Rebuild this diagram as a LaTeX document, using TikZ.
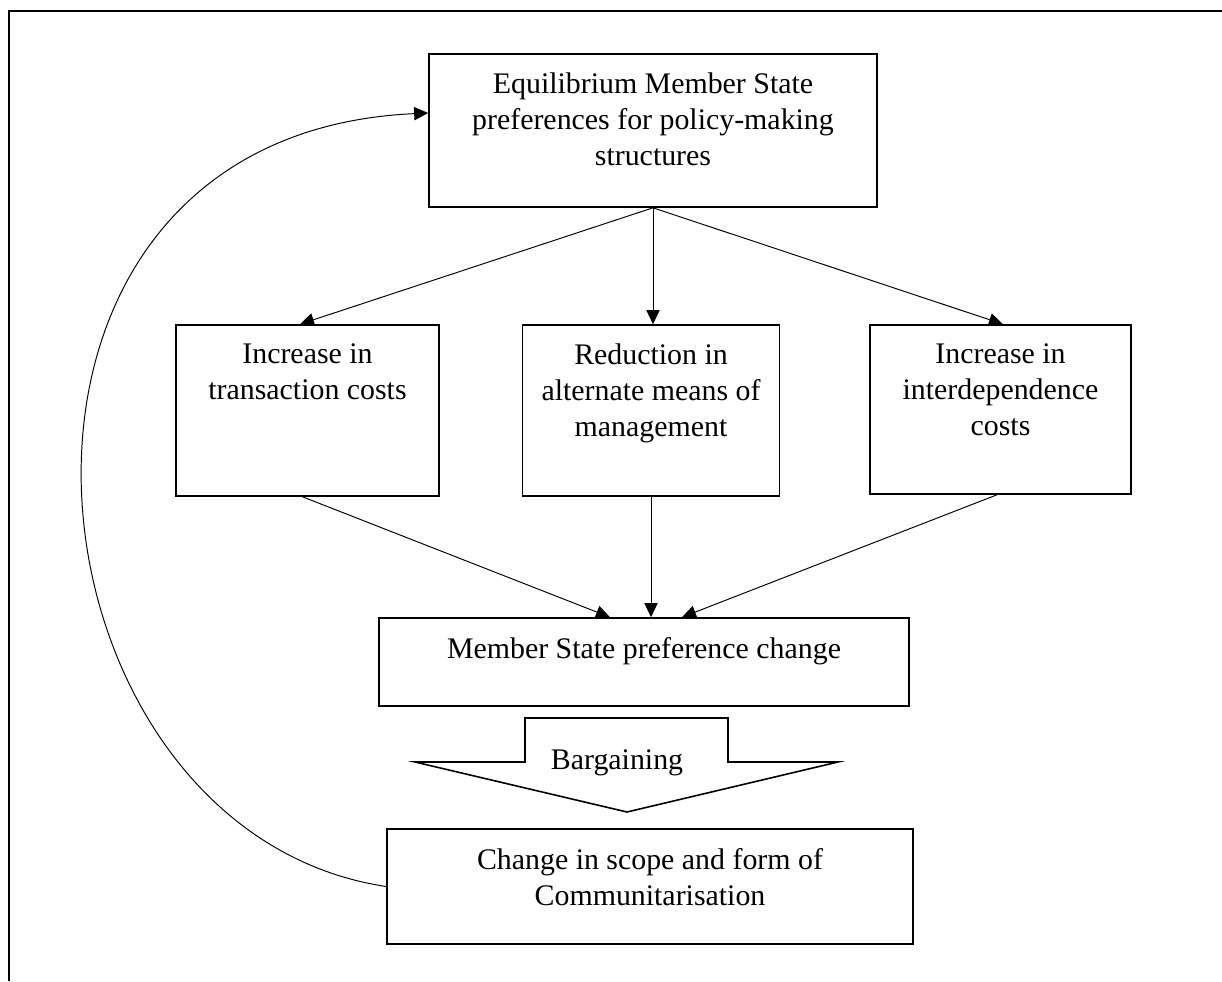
\documentclass[tikz,border=0pt]{standalone}
\usepackage{fontspec}
\setmainfont{Liberation Serif}
\usetikzlibrary{arrows.meta}
\newcommand{\boxlines}[3]{\parbox[c][#1][t]{#2}{\centering\vspace*{0.38cm}#3}}
\begin{document}
\begin{tikzpicture}[>={Triangle[length=8pt,width=7.5pt]},
  stage/.style={draw,line width=0.9pt,inner sep=0pt,font=\fontsize{17}{20.5}\selectfont},
  link/.style={->,line width=0.55pt}]
\useasboundingbox (0,0) rectangle (24.44,-19.62);
\draw[line width=1.1pt] (0.18,-19.62) |- (24.44,-0.22);
\node[stage] (eq) at (13.06,-2.61) {\boxlines{3.06cm}{8.96cm}{Equilibrium Member State\\preferences for policy-making\\structures}};
\node[stage] (tc) at (6.15,-8.21) {\boxlines{3.42cm}{5.26cm}{Increase in\\transaction costs}};
\node[stage] (rm) at (13.02,-8.21) {\boxlines{3.42cm}{5.14cm}{Reduction in\\alternate means of\\management}};
\node[stage] (ic) at (20.01,-8.19) {\boxlines{3.38cm}{5.22cm}{Increase in\\interdependence\\costs}};
\node[stage] (msp) at (12.88,-13.24) {\boxlines{1.76cm}{10.6cm}{Member State preference change}};
\node[stage] (cs) at (13.0,-17.73) {\boxlines{2.3cm}{10.52cm}{Change in scope and form of\\Communitarisation}};
\draw[link] (eq.south) -- ([xshift=-0.15cm]tc.north);
\draw[link] (eq.south) -- (eq.south |- rm.north);
\draw[link] (eq.south) -- ([xshift=0.05cm]ic.north);
\draw[link] ([xshift=-0.1cm]tc.south) -- ([xshift=-0.68cm]msp.north);
\draw[link] (rm.south) -- (rm.south |- msp.north);
\draw[link] ([xshift=-0.07cm]ic.south) -- ([xshift=0.76cm]msp.north);
% bargaining arrow
\draw[line width=0.9pt] (10.5,-14.36) -- (14.56,-14.36) -- (14.56,-15.24) -- (16.76,-15.24)
  -- (12.54,-16.24) -- (8.3,-15.24) -- (10.5,-15.24) -- cycle;
\node[font=\fontsize{17}{20.5}\selectfont] (barg) at (12.34,-15.26) {Bargaining};
% feedback loop
\draw[link] (cs.west) .. controls (0.2,-16.6) and (-1.2,-2.7) .. ([yshift=0.35cm]eq.west);
\end{tikzpicture}
\end{document}
